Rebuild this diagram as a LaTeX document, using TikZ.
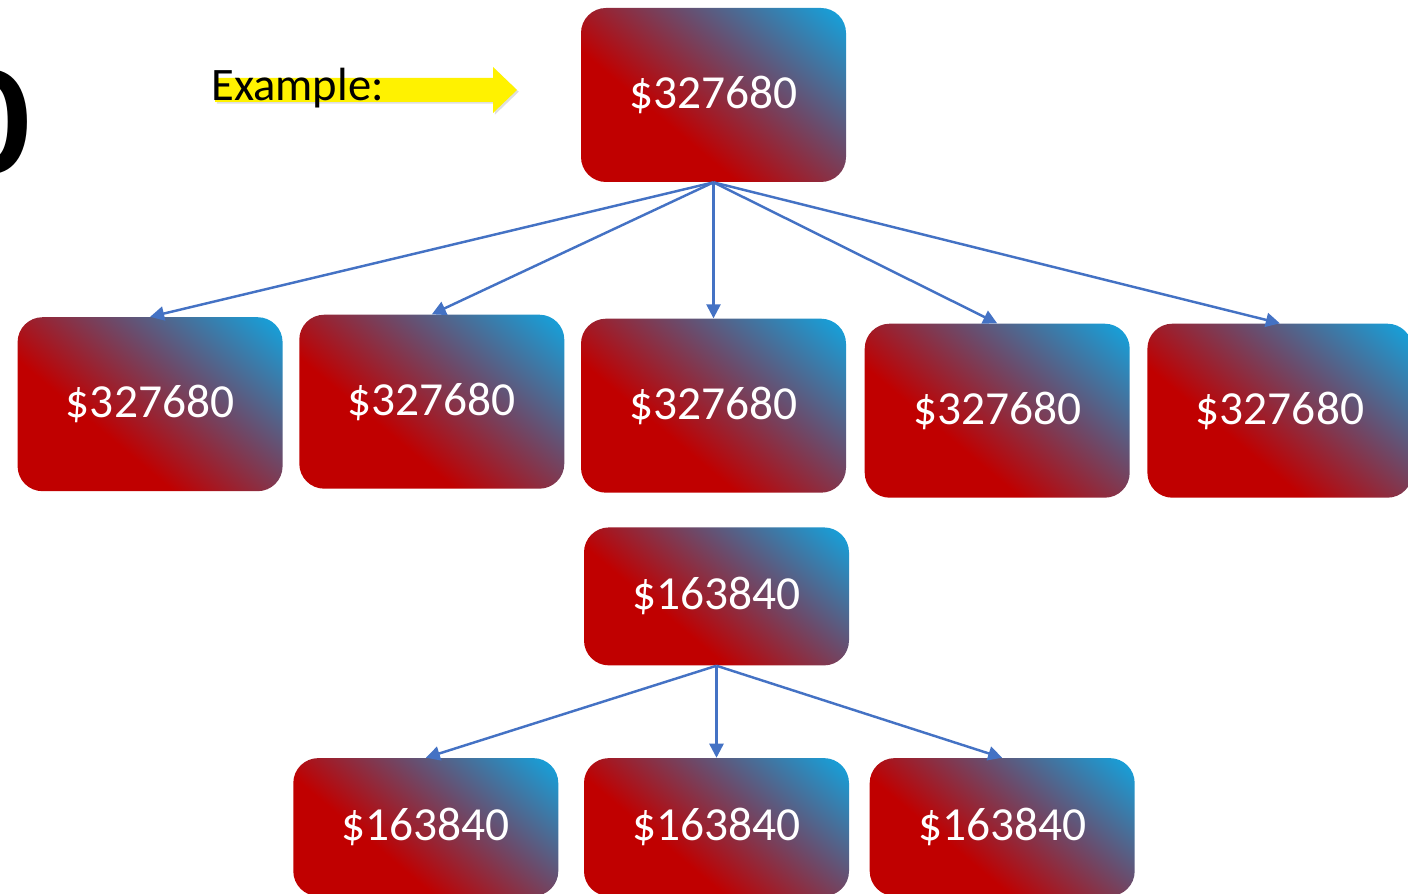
\documentclass[tikz,border=0pt]{standalone}
\usepackage{fontspec}
\setmainfont{Carlito}
\usepackage{tikz}
\usetikzlibrary{positioning, arrows.meta, shadows}
\usepackage{xcolor}
\definecolor{boxred}{HTML}{C00000}
\definecolor{boxmid}{HTML}{6B4B6B}
\definecolor{boxblue}{HTML}{14A2DC}
\definecolor{linkblue}{HTML}{4472C4}
\pgfdeclareverticalshading{boxshade}{100bp}{color(0bp)=(boxred); color(38bp)=(boxred); color(60bp)=(boxmid); color(84bp)=(boxblue); color(100bp)=(boxblue)}

\begin{document}
\begin{tikzpicture}[node distance=10pt,
  money/.style={shade, shading=boxshade, shading angle=-40, rounded corners=0.5cm, minimum width=5.3cm, minimum height=3.48cm, inner sep=0pt, text=white, font=\fontsize{27}{31}\selectfont},
  flat/.style={money, minimum height=2.76cm},
  link/.style={draw=linkblue, line width=1.4pt, -{Triangle[length=8pt, width=8pt]}}]
  \useasboundingbox (0,0) rectangle (28.16,-17.88);
  \clip (0,0) rectangle (28.16,-17.88);

  \node[anchor=east, inner sep=0pt, font=\fontsize{90}{90}\selectfont\bfseries] (zero) at (0.62,-2.45) {0};
  \fill[yellow, drop shadow={opacity=0.25, shadow xshift=1pt, shadow yshift=-1pt}] (4.30,-1.56) -- (9.86,-1.56) -- (9.86,-1.34) -- (10.34,-1.80) -- (9.86,-2.26) -- (9.86,-2.04) -- (4.30,-2.04) -- cycle;
  \node[anchor=base west, inner sep=0pt, font=\fontsize{26.5}{30}\selectfont] (example) at (4.22,-2.02) {Example:};

  \node[money]                                   (top)  at (14.27,-1.90) {\$327680};
  \node[money, below=2.72cm of top]              (c3)   {\$327680};
  \node[money, left=0.32cm of c3, yshift=0.08cm]  (c2)   {\$327680};
  \node[money, left=0.32cm of c2, yshift=-0.05cm] (c1)   {\$327680};
  \node[money, right=0.36cm of c3, yshift=-0.10cm] (c4)  {\$327680};
  \node[money, right=0.34cm of c4]               (c5)   {\$327680};

  \node[flat, below=0.68cm of c3, xshift=0.06cm] (mid)  {\$163840};
  \node[flat, below=1.84cm of mid]               (b2)   {\$163840};
  \node[flat, left=0.5cm of b2]                  (b1)   {\$163840};
  \node[flat, right=0.4cm of b2]                 (b3)   {\$163840};

  \foreach \kid in {c1, c2, c3, c4, c5}
    \draw[link] (top.south) -- (\kid.north);
  \foreach \kid in {b1, b2, b3}
    \draw[link] (mid.south) -- (\kid.north);
\end{tikzpicture}
\end{document}
